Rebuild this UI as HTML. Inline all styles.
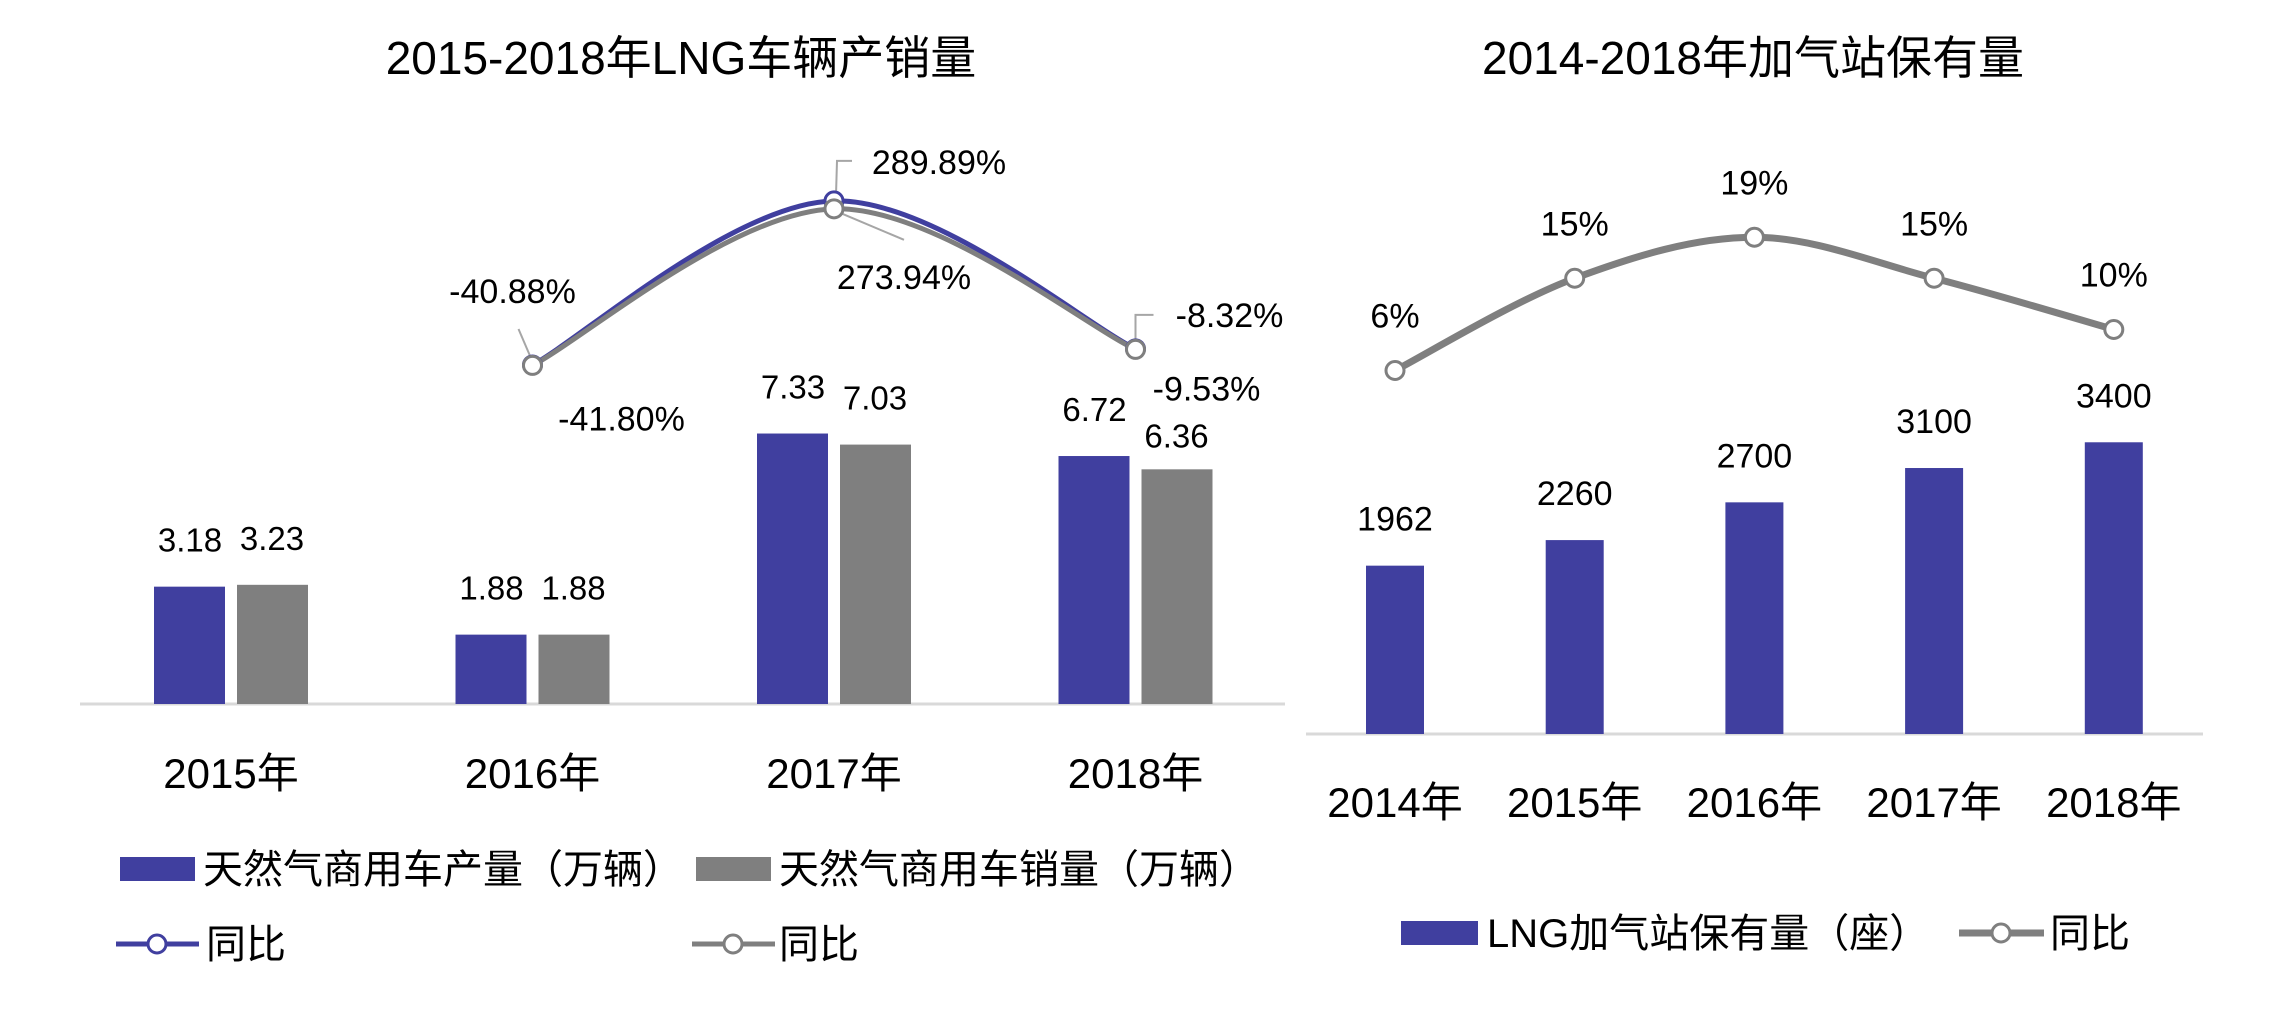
<!DOCTYPE html>
<html><head><meta charset="utf-8"><style>
html,body{margin:0;padding:0;background:#fff;}
svg{display:block;font-family:"Liberation Sans","Noto Sans CJK SC",sans-serif;}
</style></head><body>
<svg id="c" width="2284" height="1009" viewBox="0 0 2284 1009">
<text x="681" y="74" font-size="46" text-anchor="middle" fill="#000">2015-2018年LNG车辆产销量</text>
<text x="1753" y="74" font-size="46" text-anchor="middle" fill="#000">2014-2018年加气站保有量</text>
<line x1="80" y1="704" x2="1285" y2="704" stroke="#d9d9d9" stroke-width="3"/>
<line x1="1306" y1="734" x2="2203" y2="734" stroke="#d9d9d9" stroke-width="3"/>
<g id="L"></g><g id="R"></g>
<!-- left legend -->
<rect x="120" y="857" width="75" height="24" fill="#403f9f"/>
<text x="203" y="883" font-size="40">天然气商用车产量（万辆）</text>
<rect x="696" y="857" width="75" height="24" fill="#7f7f7f"/>
<text x="779" y="883" font-size="40">天然气商用车销量（万辆）</text>
<line x1="116" y1="944" x2="199" y2="944" stroke="#403f9f" stroke-width="5"/>
<circle cx="157" cy="944" r="9" fill="#fff" stroke="#403f9f" stroke-width="3"/>
<text x="206" y="958" font-size="40">同比</text>
<line x1="692" y1="944" x2="775" y2="944" stroke="#7f7f7f" stroke-width="5"/>
<circle cx="733" cy="944" r="9" fill="#fff" stroke="#7f7f7f" stroke-width="3"/>
<text x="779" y="958" font-size="40">同比</text>
<!-- right legend -->
<rect x="1401" y="921" width="77" height="24" fill="#403f9f"/>
<text x="1487" y="947" font-size="40">LNG加气站保有量（座）</text>
<line x1="1959" y1="933" x2="2044" y2="933" stroke="#7f7f7f" stroke-width="7"/>
<circle cx="2001" cy="933" r="9" fill="#fff" stroke="#7f7f7f" stroke-width="3"/>
<text x="2050" y="947" font-size="40">同比</text>
</svg>
<script>
const leftYears = ["2015年","2016年","2017年","2018年"];
const production = [3.18, 1.88, 7.33, 6.72];
const sales = [3.23, 1.88, 7.03, 6.36];
const prodYoY = [null, -40.88, 289.89, -8.32];
const salesYoY = [null, -41.80, 273.94, -9.53];
const rightYears = ["2014年","2015年","2016年","2017年","2018年"];
const stations = [1962, 2260, 2700, 3100, 3400];
const stationYoY = [6, 15, 19, 15, 10];

const NS = "http://www.w3.org/2000/svg";
const BLUE = "#403f9f", GRAY = "#7f7f7f";
function mk(parent, tag, attrs, txt){
  const e = document.createElementNS(NS, tag);
  for (const k in attrs) e.setAttribute(k, attrs[k]);
  if (txt !== undefined) e.textContent = txt;
  parent.appendChild(e);
  return e;
}
function smooth(pts){
  let d = "M" + pts[0][0] + "," + pts[0][1];
  for (let i = 0; i < pts.length - 1; i++){
    const p0 = pts[i-1] || pts[i], p1 = pts[i], p2 = pts[i+1], p3 = pts[i+2] || p2;
    const t = 6;
    const c1 = [p1[0] + (p2[0]-p0[0])/t, p1[1] + (p2[1]-p0[1])/t];
    const c2 = [p2[0] - (p3[0]-p1[0])/t, p2[1] - (p3[1]-p1[1])/t];
    d += " C" + c1 + " " + c2 + " " + p2;
  }
  return d;
}
const lBase = 704, lScale = 36.9;
const lx = i => 231 + i * 301.5;
const ly = v => lBase - v * lScale;
const lpy = p => 344.7 - p * 0.496;
const L = document.getElementById("L");
leftYears.forEach((yr, i) => {
  const cx = lx(i);
  const b1 = mk(L, "rect", {x: cx - 77, y: ly(production[i]), width: 71, height: production[i]*lScale, fill: BLUE});
  
  
  const b2 = mk(L, "rect", {x: cx + 6, y: ly(sales[i]), width: 71, height: sales[i]*lScale, fill: GRAY});
  
  
  const t1 = mk(L, "text", {x: cx - 41, y: ly(production[i]) - 35, "font-size": 33, "text-anchor": "middle"}, production[i].toFixed(2));
  
  
  const t2 = mk(L, "text", {x: cx + 41, y: ly(sales[i]) - (i==3?22:35), "font-size": 33, "text-anchor": "middle"}, sales[i].toFixed(2));
  
  
  const xl = mk(L, "text", {x: cx, y: 788, "font-size": 42, "text-anchor": "middle"}, yr);
  
  
});
function lineSeries(parent, vals, xf, yf, color, w, name){
  const pts = [];
  vals.forEach((v, i) => { if (v !== null) pts.push([xf(i), yf(v)]); });
  const p = mk(parent, "path", {d: smooth(pts), fill: "none", stroke: color, "stroke-width": w, "stroke-linecap": "round"});
  
  
  return pts;
}
const pPts = lineSeries(L, prodYoY, lx, lpy, BLUE, 5, 'production-yoy');
const sPts = lineSeries(L, salesYoY, lx, lpy, GRAY, 5, 'sales-yoy');
const ld = [[pPts[0][0]-2,pPts[0][1]-8,pPts[0][0]-14,pPts[0][1]-36,null],
            [pPts[1][0]+2,pPts[1][1]-6,pPts[1][0]+3,pPts[1][1]-40,pPts[1][0]+18],
            [sPts[1][0]+6,sPts[1][1]+4,sPts[1][0]+70,sPts[1][1]+31,null],
            [pPts[2][0],pPts[2][1]-8,pPts[2][0],pPts[2][1]-34,pPts[2][0]+18]];
ld.forEach((l, k) => {
  let d = "M" + l[0] + "," + l[1] + " L" + l[2] + "," + l[3];
  if (l[4] !== null) d += " L" + l[4] + "," + l[3];
  const e = mk(L, "path", {d: d, fill: "none", stroke: "#a6a6a6", "stroke-width": 2});
  
  
});
pPts.forEach((p, k) => {
  const c = mk(L, "circle", {cx: p[0], cy: p[1], r: 9, fill: "#fff", stroke: BLUE, "stroke-width": 3});
  
  
});
sPts.forEach((p, k) => {
  const c = mk(L, "circle", {cx: p[0], cy: p[1], r: 9, fill: "#fff", stroke: GRAY, "stroke-width": 3});
  
  
});
const pctLabels = [
  [prodYoY[1], pPts[0][0]-20, pPts[0][1]-62],
  [prodYoY[2], pPts[1][0]+105, pPts[1][1]-27],
  [prodYoY[3], pPts[2][0]+94, pPts[2][1]-22],
  [salesYoY[1], sPts[0][0]+89, sPts[0][1]+65],
  [salesYoY[2], sPts[1][0]+70, sPts[1][1]+80],
  [salesYoY[3], sPts[2][0]+71, sPts[2][1]+51]
];
pctLabels.forEach((t, k) => {
  const e = mk(L, "text", {x: t[1], y: t[2], "font-size": 34, "text-anchor": "middle"}, t[0].toFixed(2) + "%");
  
  
});
const rBase = 734, rScale = 0.0858;
const rx = i => 1395 + i * 179.7;
const ry = v => rBase - v * rScale;
const rpy = p => 432 - p * 10.25;
const R = document.getElementById("R");
rightYears.forEach((yr, i) => {
  const cx = rx(i);
  const b = mk(R, "rect", {x: cx - 29, y: ry(stations[i]), width: 58, height: stations[i]*rScale, fill: BLUE});
  
  
  const t = mk(R, "text", {x: cx, y: ry(stations[i]) - 35, "font-size": 34, "text-anchor": "middle"}, String(stations[i]));
  
  
  const xl = mk(R, "text", {x: cx, y: 817, "font-size": 42, "text-anchor": "middle"}, yr);
  
  
});
const rPts = lineSeries(R, stationYoY, rx, rpy, GRAY, 7, 'stations-yoy');
rPts.forEach((p, k) => {
  const c = mk(R, "circle", {cx: p[0], cy: p[1], r: 9, fill: "#fff", stroke: GRAY, "stroke-width": 3});
  
  
  const t = mk(R, "text", {x: p[0], y: p[1] - 43, "font-size": 34, "text-anchor": "middle"}, stationYoY[k] + "%");
  
  
});
</script>
</body></html>
